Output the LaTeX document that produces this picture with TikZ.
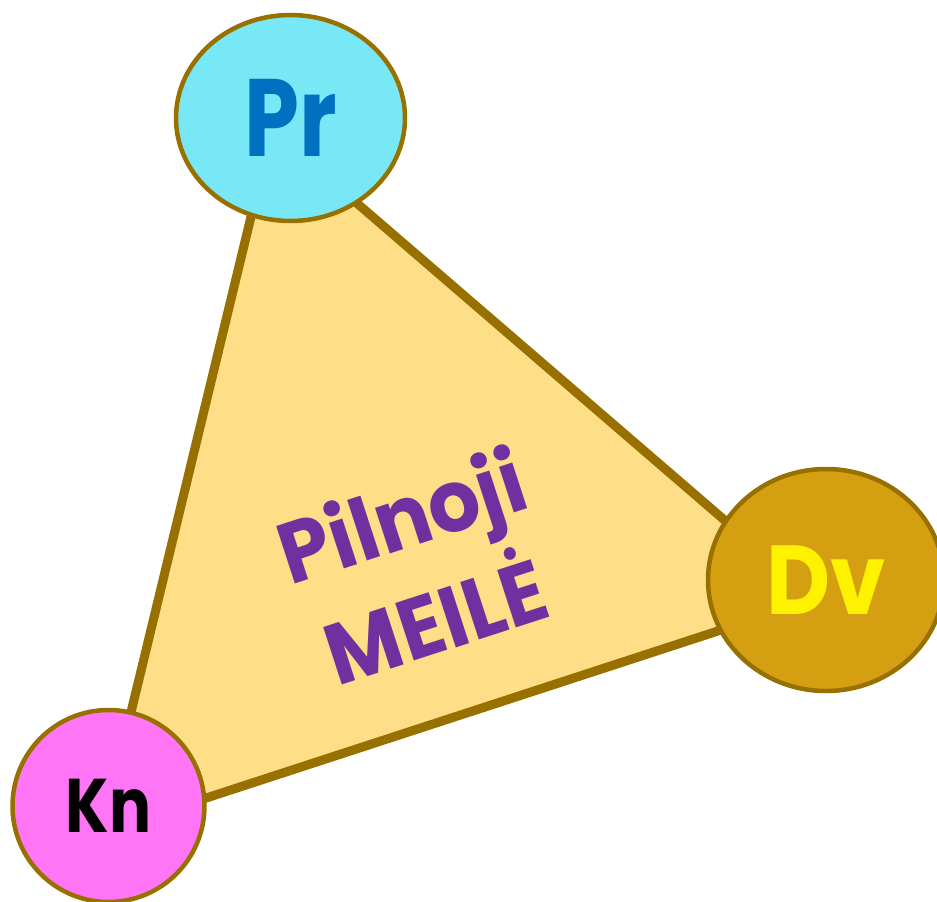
\documentclass[tikz,border=0pt]{standalone}
\usepackage{fontspec}
\usepackage{graphicx}
\setmainfont{Poppins}[UprightFont=* SemiBold, BoldFont=* Bold]
\definecolor{edge}{HTML}{987000}
\definecolor{trifill}{HTML}{FEDF87}
\definecolor{prfill}{HTML}{78E8F6}
\definecolor{prtext}{HTML}{0070C0}
\definecolor{dvfill}{HTML}{D4A012}
\definecolor{knfill}{HTML}{FF75F5}
\definecolor{purp}{HTML}{7030A0}
\tikzset{
  bubble/.style={draw=edge, line width=4.5pt, ellipse, inner sep=0pt},
}
\usetikzlibrary{shapes.geometric}
\begin{document}
\begin{tikzpicture}[x=1pt,y=-1pt]
\useasboundingbox (0,0) rectangle (937,902);
\coordinate (t1) at (272,130);
\coordinate (t2) at (816,599);
\coordinate (t3) at (102,832);
\draw[edge, fill=trifill, line width=9pt, line join=miter] (t1) -- (t2) -- (t3) -- cycle;
\node[text=purp, rotate=18, align=center, font=\bfseries\fontsize{86}{110}\selectfont] (txt) at (418,566) {\scalebox{0.95}[1]{Pilnoji}\\\scalebox{0.95}[1]{MEILĖ}};
\node[bubble, fill=prfill, minimum width=229pt, minimum height=206pt] (pr) at (290.5,118) {};
\node[text=prtext, font=\bfseries\fontsize{110}{110}\selectfont] (prl) at (pr.center) {\scalebox{0.8}[1]{Pr}};
\node[bubble, fill=dvfill, minimum width=236pt, minimum height=222pt] (dv) at (826,580) {};
\node[text=yellow, font=\bfseries\fontsize{98}{98}\selectfont] (dvl) at (dv.center) {\scalebox{0.9}[1]{Dv}};
\node[bubble, fill=knfill, minimum width=192pt, minimum height=192pt] (kn) at (108.5,806) {};
\node[text=black, font=\bfseries\fontsize{76}{76}\selectfont] (knl) at (kn.center) {\scalebox{0.82}[1]{Kn}};
\end{tikzpicture}
\end{document}
